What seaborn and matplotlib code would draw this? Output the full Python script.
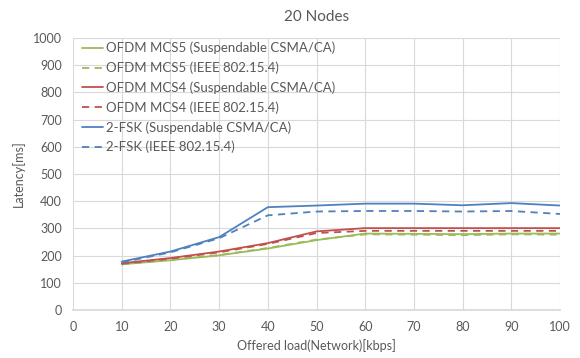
import numpy as np
import pandas as pd
import matplotlib
matplotlib.use("Agg")
import matplotlib.pyplot as plt
import seaborn as sns

load = [10, 20, 30, 40, 50, 60, 70, 80, 90, 100]
mcs5_susp = [168, 183, 201, 226, 257, 281, 280, 279, 281, 281]
mcs5_ieee = [168, 185, 202, 228, 259, 278, 277, 275, 278, 277]
mcs4_susp = [172, 191, 215, 246, 289, 301, 301, 301, 301, 301]
mcs4_ieee = [170, 189, 212, 243, 283, 291, 291, 291, 291, 291]
fsk_susp = [178, 215, 268, 378, 384, 391, 391, 385, 393, 384]
fsk_ieee = [175, 212, 264, 348, 362, 364, 364, 362, 364, 353]

series_names = [
    "OFDM MCS5 (Suspendable CSMA/CA)",
    "OFDM MCS5 (IEEE 802.15.4)",
    "OFDM MCS4 (Suspendable CSMA/CA)",
    "OFDM MCS4 (IEEE 802.15.4)",
    "2-FSK (Suspendable CSMA/CA)",
    "2-FSK (IEEE 802.15.4)",
]
series_vals = [mcs5_susp, mcs5_ieee, mcs4_susp, mcs4_ieee, fsk_susp, fsk_ieee]
colors = ["#9BBB59", "#9BBB59", "#C0504D", "#C0504D", "#4F81BD", "#4F81BD"]
dashed = [False, True, False, True, False, True]

sns.set_theme(style="white")
plt.rcParams['font.family'] = ['Lato', 'DejaVu Sans']
txt = "#595959"

fig = plt.figure(figsize=(5.8, 3.58), dpi=100)
ax = fig.add_axes([0.126, 0.134, 0.8395, 0.760])

for name, vals, c, d in zip(series_names, series_vals, colors, dashed):
    df = pd.DataFrame({"x": load, "y": vals})
    sns.lineplot(data=df, x="x", y="y", ax=ax, color=c, linewidth=1.3,
                 linestyle=(0, (4, 3)) if d else "-", label=name)

ax.set_xlim(0, 100)
ax.set_ylim(0, 1000)
ax.set_xticks(np.arange(0, 101, 10))
ax.set_yticks(np.arange(0, 1001, 100))
ax.grid(True, color="#D9D9D9", linewidth=0.8)
ax.set_axisbelow(True)
for s in ["top", "right", "left"]:
    ax.spines[s].set_visible(False)
ax.spines["bottom"].set_color("#D9D9D9")
ax.tick_params(axis="both", length=0, labelsize=9, labelcolor=txt, pad=8)
ax.set_xlabel("Offered load(Network)[kbps]", fontsize=9, color=txt, labelpad=4)
ax.set_ylabel("Latency[ms]", fontsize=9, color=txt, labelpad=6)
ax.set_title("20 Nodes", fontsize=11, color=txt, pad=12)

leg = ax.legend(loc="upper left", bbox_to_anchor=(0.01, 1.0), frameon=False,
                fontsize=9.5, handlelength=1.6, handletextpad=0.2,
                labelspacing=0.55, borderaxespad=0.1, borderpad=0.2)
for t in leg.get_texts():
    t.set_color(txt)

fig.savefig("out.png", dpi=100)
